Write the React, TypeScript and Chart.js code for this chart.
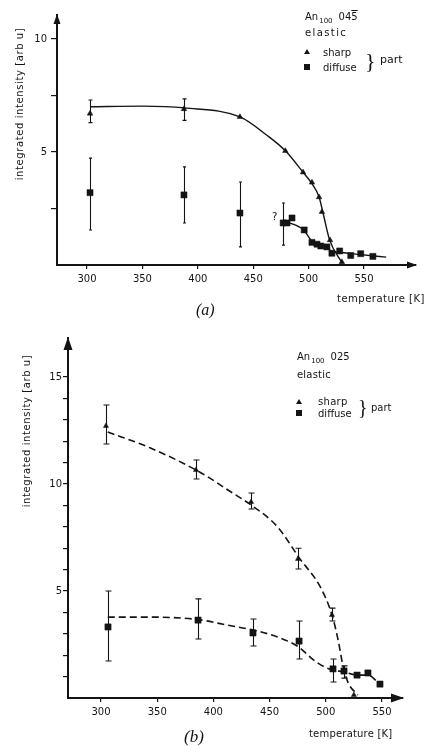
import React, { useEffect, useRef } from 'react';
import { Chart, registerables } from 'chart.js';

Chart.register(...registerables);

const INK = '#141414';
const FONT = "'DejaVu Sans', 'Liberation Sans', sans-serif";

// ---------- Panel (a): An100 04-5, elastic ----------
const xTicksA = [300, 350, 400, 450, 500, 550];
const yTicksA = [2.5, 5, 7.5, 10];
const yLabelledA = [5, 10];

const sharpTempA = [302.7, 387.5, 438, 479, 495, 503, 509.4, 512, 519.3, 530];
const sharpIntA = [6.7, 6.9, 6.55, 5.05, 4.1, 3.65, 3.0, 2.35, 1.1, 0.13];
const sharpErrLoA = [6.3, 6.4, null, null, null, null, null, null, null, null];
const sharpErrHiA = [7.3, 7.35, null, null, null, null, null, null, null, null];

const diffuseTempA = [302.7, 387.5, 438, 477, 480.5, 485, 496, 503, 507.5, 511, 516.5, 521, 528, 538, 547, 558];
const diffuseIntA = [3.2, 3.1, 2.3, 1.86, 1.86, 2.08, 1.55, 1.0, 0.92, 0.84, 0.8, 0.52, 0.62, 0.42, 0.5, 0.38];
const diffuseErrLoA = [1.55, 1.86, 0.8, 0.88, null, null, null, null, null, null, null, null, null, null, null, null];
const diffuseErrHiA = [4.73, 4.34, 3.67, 2.74, null, null, null, null, null, null, null, null, null, null, null, null];

const sharpFitTempA = [302.7, 350, 388, 438, 462, 479, 495, 503, 509.5, 513, 519, 530];
const sharpFitIntA = [7.0, 7.03, 6.95, 6.55, 5.75, 5.05, 4.1, 3.6, 3.0, 2.3, 1.1, 0.1];

const diffuseFitTempA = [481, 495.5, 503, 510, 516, 521, 530, 545, 570];
const diffuseFitIntA = [1.9, 1.55, 1.05, 0.88, 0.78, 0.6, 0.55, 0.47, 0.35];

// ---------- Panel (b): An100 025, elastic ----------
const xTicksB = [300, 350, 400, 450, 500, 550];
const yTicksB = [1, 2, 3, 4, 5, 6, 7, 8, 9, 10, 11, 12, 13, 14, 15];
const yLabelledB = [5, 10, 15];

const sharpTempB = [304.4, 384.5, 433.5, 475.3, 505.5, 516.2, 525];
const sharpIntB = [12.71, 10.65, 9.16, 6.5, 3.88, 1.31, 0.14];
const sharpErrLoB = [11.87, 10.23, 8.83, 6.03, 3.6, null, null];
const sharpErrHiB = [13.69, 11.12, 9.58, 7.0, 4.2, null, null];

const diffuseTempB = [306.2, 386.3, 435.2, 476.2, 506.4, 516.2, 527.8, 537.5, 548.2];
const diffuseIntB = [3.32, 3.64, 3.04, 2.66, 1.36, 1.26, 1.07, 1.17, 0.65];
const diffuseErrLoB = [1.73, 2.76, 2.43, 1.82, 0.75, 0.93, null, null, null];
const diffuseErrHiB = [5.0, 4.63, 3.69, 3.6, 1.82, 1.5, null, null, null];

const sharpFitTempB = [306, 344, 388, 417, 433.5, 457, 477, 495, 505.5, 511, 515.5, 520, 528.5];
const sharpFitIntB = [12.43, 11.68, 10.55, 9.58, 9.02, 8.0, 6.5, 5.2, 3.88, 2.7, 1.45, 0.7, 0.14];

const diffuseFitTempB = [306, 344, 387, 412, 435, 457, 476, 489, 499, 506.4, 516, 528, 537.5, 548];
const diffuseFitIntB = [3.78, 3.78, 3.66, 3.41, 3.18, 2.85, 2.38, 1.78, 1.45, 1.31, 1.22, 1.07, 1.07, 0.65];

const pts = (xs: number[], ys: number[]) => xs.map((x, i) => ({ x, y: ys[i] }));

const errorBarPlugin = {
  id: 'errorBars',
  beforeDatasetsDraw(chart: any) {
    const { ctx } = chart;
    const xs = chart.scales.x;
    const ys = chart.scales.y;
    chart.data.datasets.forEach((ds: any) => {
      if (!ds.errLo) return;
      ctx.save();
      ctx.strokeStyle = INK;
      ctx.lineWidth = ds.errWidth ?? 1;
      ds.data.forEach((p: any, i: number) => {
        const lo = ds.errLo[i];
        const hi = ds.errHi[i];
        if (lo == null || hi == null) return;
        const px = Math.round(xs.getPixelForValue(p.x)) + 0.5;
        const y1 = ys.getPixelForValue(lo);
        const y2 = ys.getPixelForValue(hi);
        const c = ds.capHalf ?? 0;
        ctx.beginPath();
        ctx.moveTo(px, y1);
        ctx.lineTo(px, y2);
        if (c) {
          ctx.moveTo(px - c, y1);
          ctx.lineTo(px + c, y1);
          ctx.moveTo(px - c, y2);
          ctx.lineTo(px + c, y2);
        }
        ctx.stroke();
      });
      ctx.restore();
    });
  },
};

const arrowPlugin = {
  id: 'axisArrows',
  afterDraw(chart: any, _args: any, opts: any) {
    const { ctx, chartArea: a } = chart;
    ctx.save();
    ctx.fillStyle = INK;
    ctx.beginPath();
    ctx.moveTo(a.left, a.top - 1);
    ctx.lineTo(a.left - opts.upW / 2, a.top + opts.upH);
    ctx.lineTo(a.left + opts.upW / 2, a.top + opts.upH);
    ctx.closePath();
    ctx.fill();
    ctx.beginPath();
    ctx.moveTo(a.right + 1, a.bottom);
    ctx.lineTo(a.right - opts.rightH, a.bottom - opts.rightW / 2);
    ctx.lineTo(a.right - opts.rightH, a.bottom + opts.rightW / 2);
    ctx.closePath();
    ctx.fill();
    ctx.restore();
  },
};

type PanelSpec = {
  xMin: number; xMax: number; yMax: number;
  xTicks: number[]; yTicks: number[]; yLabelled: number[];
  padding: { left: number; top: number; right: number; bottom: number };
  yTickLen: number; yPad: number; xTickLen: number; xPad: number;
  datasets: any[];
  arrows: any;
};

function makeConfig(p: PanelSpec): any {
  return {
    type: 'scatter',
    data: { datasets: p.datasets },
    options: {
      animation: false,
      responsive: false,
      maintainAspectRatio: false,
      events: [],
      layout: { padding: p.padding },
      plugins: {
        legend: { display: false },
        tooltip: { enabled: false },
        title: { display: false },
        axisArrows: p.arrows,
      },
      scales: {
        x: {
          type: 'linear',
          min: p.xMin,
          max: p.xMax,
          afterBuildTicks: (s: any) => { s.ticks = p.xTicks.map((v) => ({ value: v })); },
          afterFit: (s: any) => { s.height = 25; },
          ticks: {
            autoSkip: false, maxRotation: 0, color: INK, padding: p.xPad,
            font: { family: FONT, size: 10 },
            callback: (v: any) => String(v),
          },
          grid: { display: true, drawOnChartArea: false, drawTicks: true, tickLength: p.xTickLen, color: INK, lineWidth: 1.2 },
          border: { display: true, color: INK, width: 2 },
        },
        y: {
          type: 'linear',
          min: 0,
          max: p.yMax,
          afterBuildTicks: (s: any) => { s.ticks = p.yTicks.map((v) => ({ value: v })); },
          afterFit: (s: any) => { s.width = 50; },
          ticks: {
            autoSkip: false, color: INK, padding: p.yPad,
            font: { family: FONT, size: 10 },
            callback: (v: any) => (p.yLabelled.includes(v) ? String(v) : ''),
          },
          grid: { display: true, drawOnChartArea: false, drawTicks: true, tickLength: p.yTickLen, color: INK, lineWidth: 1.2 },
          border: { display: true, color: INK, width: 2 },
        },
      },
    },
    plugins: [errorBarPlugin, arrowPlugin],
  };
}

const fitLine = (xs: number[], ys: number[], dashed: boolean) => ({
  data: pts(xs, ys),
  showLine: true,
  pointRadius: 0,
  borderColor: INK,
  backgroundColor: INK,
  borderWidth: dashed ? 1.6 : 1.4,
  borderDash: dashed ? [7, 4] : [],
  cubicInterpolationMode: 'monotone',
  fill: false,
  clip: false,
});

const markers = (xs: number[], ys: number[], lo: any[], hi: any[], style: string, r: number, cap: number) => ({
  data: pts(xs, ys),
  showLine: false,
  pointStyle: style,
  pointRadius: r,
  pointBorderWidth: 0.5,
  borderColor: INK,
  backgroundColor: INK,
  errLo: lo,
  errHi: hi,
  capHalf: cap,
  errWidth: 1.1,
  clip: false,
});

const specA: PanelSpec = {
  xMin: 272.9, xMax: 596.9, yMax: 11.06,
  xTicks: xTicksA, yTicks: yTicksA, yLabelled: yLabelledA,
  padding: { left: 7, top: 15, right: 10, bottom: 456 },
  yTickLen: 6, yPad: 4, xTickLen: 4, xPad: 4,
  datasets: [
    fitLine(sharpFitTempA, sharpFitIntA, false),
    fitLine(diffuseFitTempA, diffuseFitIntA, false),
    markers(sharpTempA, sharpIntA, sharpErrLoA, sharpErrHiA, 'triangle', 3.2, 2),
    markers(diffuseTempA, diffuseIntA, diffuseErrLoA, diffuseErrHiA, 'rect', 4.3, 1.5),
  ],
  arrows: { upW: 7, upH: 9, rightW: 7, rightH: 9 },
};

const specB: PanelSpec = {
  xMin: 270.6, xMax: 568.7, yMax: 16.82,
  xTicks: xTicksB, yTicks: yTicksB, yLabelled: yLabelledB,
  padding: { left: 18, top: 338, right: 23, bottom: 23 },
  yTickLen: 5, yPad: 1, xTickLen: 4, xPad: 4,
  datasets: [
    fitLine(sharpFitTempB, sharpFitIntB, true),
    fitLine(diffuseFitTempB, diffuseFitIntB, true),
    markers(sharpTempB, sharpIntB, sharpErrLoB, sharpErrHiB, 'triangle', 3, 3),
    markers(diffuseTempB, diffuseIntB, diffuseErrLoB, diffuseErrHiB, 'rect', 4.4, 3),
  ],
  arrows: { upW: 9, upH: 12, rightW: 9, rightH: 12 },
};

function Txt(props: { x: number; y: number; size?: number; ls?: number; family?: string; style?: any; children: any }) {
  const size = props.size ?? 10;
  const lh = Math.round(size * 1.25);
  return (
    <div
      style={{
        position: 'absolute', left: props.x, top: props.y - lh / 2,
        fontFamily: props.family ?? FONT, fontSize: size, lineHeight: lh + 'px',
        letterSpacing: props.ls ?? 0, whiteSpace: 'nowrap', color: INK, ...(props.style || {}),
      }}
    >
      {props.children}
    </div>
  );
}

function VTitle(props: { cx: number; cy: number; ls?: number; children: any }) {
  return (
    <div
      style={{
        position: 'absolute', left: props.cx, top: props.cy,
        transform: 'translate(-50%, -50%) rotate(-90deg)',
        fontFamily: FONT, fontSize: 10, lineHeight: '12px', letterSpacing: props.ls ?? 0,
        whiteSpace: 'nowrap', color: INK,
      }}
    >
      {props.children}
    </div>
  );
}

const Tri = ({ x, y }: { x: number; y: number }) => (
  <div style={{ position: 'absolute', left: x - 3, top: y - 3, width: 0, height: 0, borderLeft: '3px solid transparent', borderRight: '3px solid transparent', borderBottom: '5px solid ' + INK }} />
);
const Sq = ({ x, y }: { x: number; y: number }) => (
  <div style={{ position: 'absolute', left: x - 3, top: y - 3, width: 6, height: 6, background: INK }} />
);

export default function App() {
  const refA = useRef<HTMLCanvasElement>(null);
  const refB = useRef<HTMLCanvasElement>(null);

  useEffect(() => {
    const a = new Chart(refA.current as HTMLCanvasElement, makeConfig(specA));
    const b = new Chart(refB.current as HTMLCanvasElement, makeConfig(specB));
    return () => { a.destroy(); b.destroy(); };
  }, []);

  const subStyle = { fontSize: 7, verticalAlign: '-3px', marginLeft: 1, marginRight: 6 };

  return (
    <div style={{ position: 'fixed', left: 0, top: 0, width: 426, height: 746, background: '#fff', overflow: 'hidden' }}>
      <canvas ref={refA} width={426} height={746} style={{ position: 'absolute', left: 0, top: 0 }} />
      <canvas ref={refB} width={426} height={746} style={{ position: 'absolute', left: 0, top: 0 }} />

      {/* Panel (a) annotations */}
      <VTitle cx={20} cy={104} ls={0.6}>integrated intensity [arb u]</VTitle>
      <Txt x={337} y={298} ls={0.5}>temperature [K]</Txt>
      <Txt x={196} y={310} size={16} family="'Liberation Serif', serif" style={{ fontStyle: 'italic' }}>(a)</Txt>
      <Txt x={305} y={16}>An<span style={subStyle}>100</span>04<span style={{ textDecoration: 'overline' }}>5</span></Txt>
      <Txt x={305} y={32} ls={1.4}>elastic</Txt>
      <Tri x={307} y={52} />
      <Txt x={323} y={52}>sharp</Txt>
      <Sq x={307} y={67} />
      <Txt x={323} y={67}>diffuse</Txt>
      <Txt x={365} y={61} size={22} family="'Liberation Serif', serif">{'}'}</Txt>
      <Txt x={380} y={60} size={11}>part</Txt>
      <Txt x={272} y={216}>?</Txt>

      {/* Panel (b) annotations */}
      <VTitle cx={27} cy={431} ls={0.6}>integrated intensity [arb u]</VTitle>
      <Txt x={309} y={733} ls={0.2}>temperature [K]</Txt>
      <Txt x={184} y={736} size={17} family="'Liberation Serif', serif" style={{ fontStyle: 'italic' }}>(b)</Txt>
      <Txt x={297} y={356}>An<span style={subStyle}>100</span>025</Txt>
      <Txt x={297} y={374} ls={0.2}>elastic</Txt>
      <Tri x={299} y={402} />
      <Txt x={318} y={401} ls={0.3}>sharp</Txt>
      <Sq x={299} y={413} />
      <Txt x={318} y={413}>diffuse</Txt>
      <Txt x={358} y={407} size={20} family="'Liberation Serif', serif">{'}'}</Txt>
      <Txt x={371} y={407} size={10}>part</Txt>
    </div>
  );
}
